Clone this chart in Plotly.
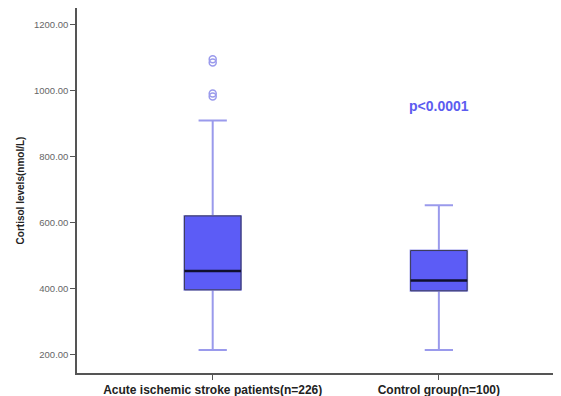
import plotly.graph_objects as go

categories = ["Acute ischemic stroke patients(n=226)", "Control group(n=100)"]
q1 = [397, 394]
median = [454, 425]
q3 = [621, 516]
lower_whisker = [215, 215]
upper_whisker = [910, 653]
outliers_group0 = [1096, 1086, 992, 983]
p_text = "p<0.0001"
p_y = 955

FILL = "#5c5cf6"
WHISK = "#9a9aec"
EDGE = "#3a3a55"
FONT = "Arial, Liberation Sans, sans-serif"

xs = [0, 1]
fig = go.Figure()

# whiskers + caps
for i in range(2):
    fig.add_trace(go.Box(
        x=[xs[i]], q1=[q1[i]], median=[median[i]], q3=[q3[i]],
        lowerfence=[lower_whisker[i]], upperfence=[upper_whisker[i]],
        width=0.25, whiskerwidth=0.5, fillcolor="rgba(0,0,0,0)",
        line=dict(color=WHISK, width=2), boxpoints=False, showlegend=False,
        hoverinfo="skip"))
# boxes
for i in range(2):
    fig.add_trace(go.Box(
        x=[xs[i]], q1=[q1[i]], median=[median[i]], q3=[q3[i]],
        lowerfence=[q1[i]], upperfence=[q3[i]],
        width=0.25, whiskerwidth=0, fillcolor=FILL,
        line=dict(color=EDGE, width=1), boxpoints=False, showlegend=False))
# median lines
for i in range(2):
    fig.add_trace(go.Scatter(
        x=[xs[i] - 0.125, xs[i] + 0.125], y=[median[i], median[i]],
        mode="lines", line=dict(color="#101030", width=2.5), showlegend=False))
# outliers
fig.add_trace(go.Scatter(
    x=[xs[0]] * len(outliers_group0), y=outliers_group0, mode="markers",
    marker=dict(symbol="circle-open", size=7, color=WHISK, line=dict(width=1.5)),
    showlegend=False))

fig.add_annotation(x=xs[1], y=p_y, text="<b>" + p_text + "</b>", showarrow=False,
                   font=dict(family=FONT, size=14, color="#5c5cf0"))

fig.update_layout(
    width=553, height=388, boxmode="overlay",
    margin=dict(l=69, r=0, t=0, b=23, autoexpand=False),
    paper_bgcolor="white", plot_bgcolor="white",
    font=dict(family=FONT),
    xaxis=dict(range=[-0.6, 1.54], tickvals=xs,
               ticktext=["<b>" + c + "</b>" for c in categories],
               tickfont=dict(size=12, color="#222"), showgrid=False, zeroline=False,
               showline=True, linecolor="#555", linewidth=1.5,
               ticks="outside", ticklen=5, tickcolor="#555"),
    yaxis=dict(range=[145, 1251], tickvals=[200, 400, 600, 800, 1000, 1200],
               tickformat=".2f", tickfont=dict(size=9.5, color="#666"),
               showgrid=False, zeroline=False, showline=True, linecolor="#555",
               linewidth=1.5, ticks="outside", ticklen=5, tickcolor="#555",
               title=dict(text="<b>Cortisol levels(nmol/L)</b>",
                          font=dict(size=10, color="#222"), standoff=8)),
)

fig.write_html("out.html")
